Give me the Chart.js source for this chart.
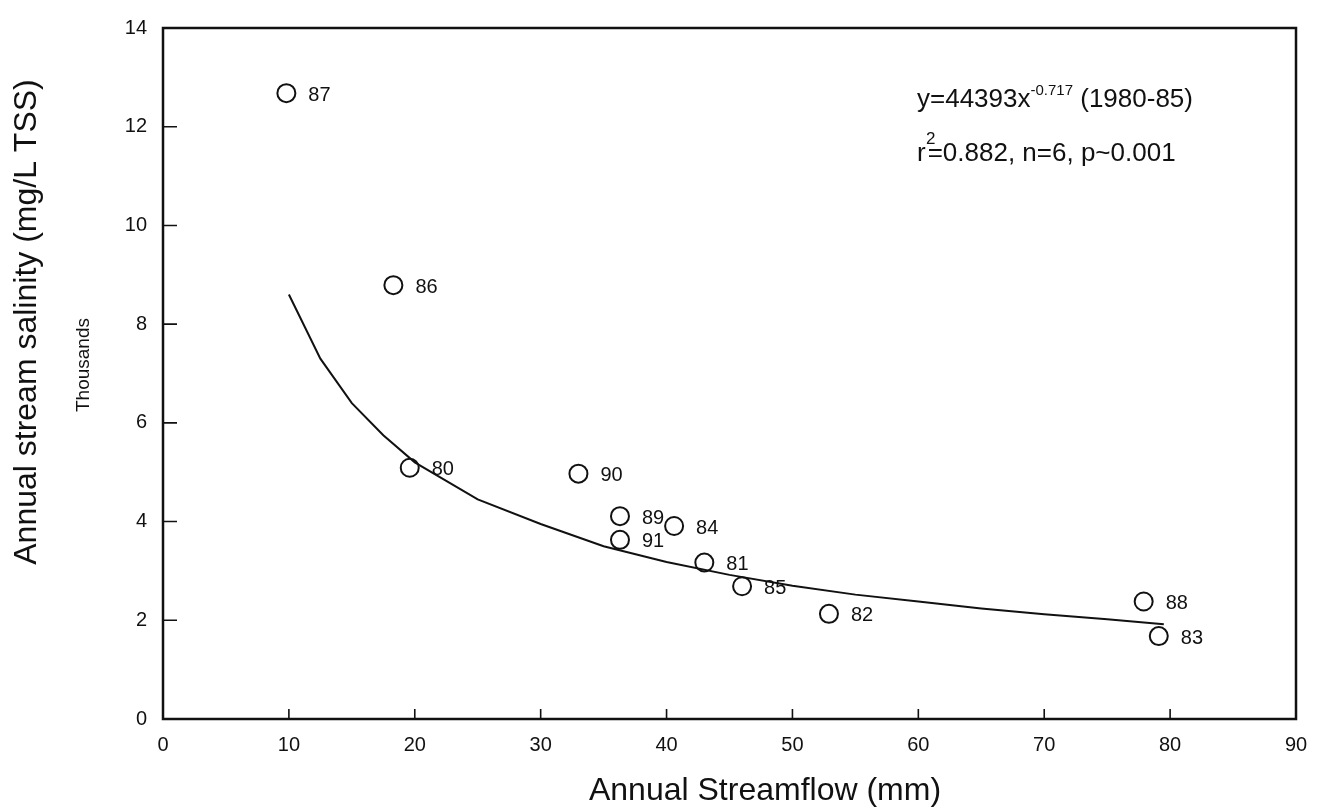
<!DOCTYPE html>
<html><head><meta charset="utf-8">
<script src="https://cdn.jsdelivr.net/npm/chart.js@4.4.1/dist/chart.umd.min.js"></script>
<style>html,body{margin:0;padding:0;background:#fff;}#wrap{position:relative;width:1322px;height:812px;}</style>
</head><body><div id="wrap"><canvas id="c" width="1322" height="812"></canvas></div>
<script>
// Observed points (annual streamflow, mm; annual salinity, thousands mg/L TSS)
const years = ['87','86','80','90','89','91','84','81','85','82','88','83'];
const flow = [9.8, 18.3, 19.6, 33.0, 36.3, 36.3, 40.6, 43.0, 46.0, 52.9, 77.9, 79.1];
const salinity = [12.68, 8.79, 5.09, 4.97, 4.11, 3.63, 3.91, 3.17, 2.69, 2.13, 2.38, 1.68];
// Fitted curve
const fitFlow = [10, 12.5, 15, 17.5, 20, 25, 30, 35, 40, 45, 50, 55, 60, 65, 70, 75, 79.5];
const fitSalinity = [8.6, 7.3, 6.4, 5.75, 5.2, 4.45, 3.95, 3.5, 3.18, 2.92, 2.7, 2.52, 2.38, 2.24, 2.12, 2.02, 1.92];
// Tick labels
const xTicks = [0, 10, 20, 30, 40, 50, 60, 70, 80, 90];
const yTicks = [0, 2, 4, 6, 8, 10, 12, 14];
const xTitle = 'Annual Streamflow (mm)';
const yTitle = 'Annual stream salinity (mg/L TSS)';
const yUnit = 'Thousands';

const INK = '#111';
const FAM = '"Liberation Sans", Arial, sans-serif';

const framePlugin = {
  id: 'frame',
  afterDraw(chart) {
    const {ctx, chartArea: a, scales: {x, y}} = chart;
    ctx.save();
    ctx.strokeStyle = INK;
    ctx.lineWidth = 2.5;
    ctx.strokeRect(a.left, a.top, a.right - a.left, a.bottom - a.top);
    ctx.lineWidth = 1.6;
    ctx.beginPath();
    xTicks.forEach(v => { if (v > x.min && v < x.max) { const px = x.getPixelForValue(v); ctx.moveTo(px, a.bottom); ctx.lineTo(px, a.bottom - 10); } });
    yTicks.forEach(v => { if (v > y.min && v < y.max) { const py = y.getPixelForValue(v); ctx.moveTo(a.left, py); ctx.lineTo(a.left + 14, py); } });
    ctx.stroke();

    // point labels
    const meta = chart.getDatasetMeta(1);
    ctx.fillStyle = INK;
    ctx.font = '20px ' + FAM;
    ctx.textBaseline = 'middle';
    ctx.textAlign = 'left';
    meta.data.forEach((el, i) => { ctx.fillText(years[i], el.x + 22, el.y + 2); });

    // equation
    const ex = a.right - 379;
    ctx.textBaseline = 'alphabetic';
    ctx.font = '26px ' + FAM;
    const t = 'y=44393x';
    ctx.fillText(t, ex, a.top + 79);
    const w = ctx.measureText(t).width;
    ctx.font = '15px ' + FAM;
    const sup = '-0.717';
    ctx.fillText(sup, ex + w, a.top + 67);
    const w2 = ctx.measureText(sup).width;
    ctx.font = '26px ' + FAM;
    ctx.fillText(' (1980-85)', ex + w + w2, a.top + 79);
    ctx.fillText('r', ex, a.top + 133);
    const rw = ctx.measureText('r').width;
    ctx.fillText('=0.882, n=6, p~0.001', ex + rw + 2, a.top + 133);
    ctx.font = '17px ' + FAM;
    ctx.fillText('2', ex + 9, a.top + 116);

    // axis titles
    ctx.font = '32px ' + FAM;
    ctx.textAlign = 'center';
    ctx.fillText(xTitle, 765, 800);
    ctx.save();
    ctx.translate(36, 322);
    ctx.rotate(-Math.PI / 2);
    ctx.fillText(yTitle, 0, 0);
    ctx.restore();

    // Thousands
    ctx.save();
    ctx.translate(89, 365);
    ctx.rotate(-Math.PI / 2);
    ctx.font = '19px ' + FAM;
    ctx.textAlign = 'center';
    ctx.fillText(yUnit, 0, 0);
    ctx.restore();
    ctx.restore();
  }
};

new Chart(document.getElementById('c'), {
  type: 'scatter',
  data: {
    datasets: [
      { type: 'line', data: fitFlow.map((v, i) => ({x: v, y: fitSalinity[i]})), borderColor: INK, borderWidth: 2, pointRadius: 0, fill: false, tension: 0 },
      { data: flow.map((v, i) => ({x: v, y: salinity[i]})), pointStyle: 'circle', pointRadius: 9, borderColor: INK, borderWidth: 2, backgroundColor: 'rgba(0,0,0,0)' }
    ]
  },
  options: {
    responsive: false, animation: false, devicePixelRatio: 1,
    layout: { padding: { left: 0, right: 26, top: 19, bottom: 0 } },
    plugins: { legend: { display: false }, tooltip: { enabled: false } },
    scales: {
      x: {
        type: 'linear', min: 0, max: 90,
        afterBuildTicks(s) { s.ticks = xTicks.map(v => ({value: v})); },
        ticks: { font: { size: 20, family: FAM }, color: INK, padding: 14, maxRotation: 0 },
        grid: { display: false, drawTicks: false }, border: { display: false },
        afterFit(s) { s.height = 93; }
      },
      y: {
        type: 'linear', min: 0, max: 14,
        afterBuildTicks(s) { s.ticks = yTicks.map(v => ({value: v})); },
        ticks: { font: { size: 20, family: FAM }, color: INK, padding: 16 },
        grid: { display: false, drawTicks: false }, border: { display: false },
        afterFit(s) { s.width = 163; }
      }
    }
  },
  plugins: [framePlugin]
});
</script></body></html>
